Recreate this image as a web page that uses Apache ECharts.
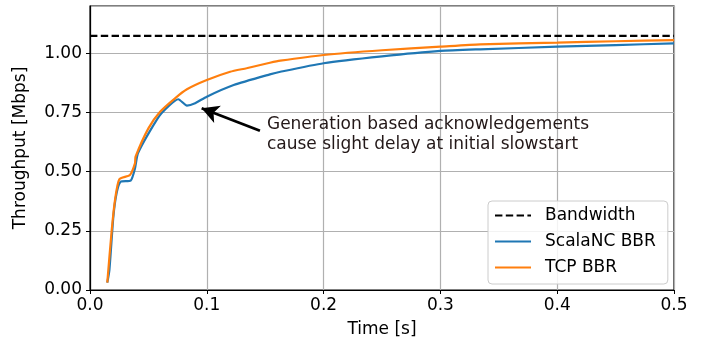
<!DOCTYPE html>
<html>
<head>
<meta charset="utf-8">
<script src="https://cdn.jsdelivr.net/npm/echarts@6/dist/echarts.min.js"></script>
<style>
html,body{margin:0;padding:0;background:#fff;}
#chart{width:704px;height:347px;}
</style>
</head>
<body>
<div id="chart"></div>
<script>
// ---- data ----
const bandwidth = 1.074;
const tcpTime = [0.0148,0.0186,0.0214,0.0251,0.0342,0.0385,0.039,0.050,0.060,0.0728,0.083,0.100,0.120,0.134,0.154,0.163,0.200,0.250,0.300,0.334,0.400,0.450,0.500];
const tcpThr  = [0.031,0.253,0.380,0.468,0.486,0.535,0.563,0.683,0.753,0.810,0.848,0.887,0.922,0.937,0.960,0.969,0.993,1.013,1.028,1.038,1.045,1.051,1.056];
const ncTime  = [0.0148,0.0166,0.0200,0.0228,0.0263,0.0348,0.0385,0.041,0.051,0.061,0.0756,0.083,0.090,0.100,0.123,0.154,0.163,0.200,0.250,0.300,0.334,0.400,0.450,0.500];
const ncThr   = [0.031,0.084,0.310,0.410,0.458,0.462,0.514,0.577,0.669,0.746,0.806,0.779,0.789,0.817,0.866,0.911,0.922,0.958,0.987,1.010,1.017,1.028,1.035,1.042];
const xTicks = [0.0,0.1,0.2,0.3,0.4,0.5];
const yTicks = [0.00,0.25,0.50,0.75,1.00];
const annotationText = ['Generation based acknowledgements','cause slight delay at initial slowstart'];
const arrowTip = [0.0956, 0.768];
const arrowTail = [0.1455, 0.673];
const textAnchor = [0.1515, 0.69];

const FONT = 'DejaVu Sans';
const FS = 17;
const zip = (a,b)=>a.map((v,i)=>[v,b[i]]);

const chart = echarts.init(document.getElementById('chart'), null, {renderer:'canvas'});
const option = {
  animation:false,
  backgroundColor:'#fff',
  textStyle:{fontFamily:FONT},
  grid:{left:90,right:30,top:6,bottom:57,show:true,borderColor:'#000',borderWidth:1.2,backgroundColor:'transparent'},
  xAxis:{
    type:'value',min:xTicks[0],max:xTicks[xTicks.length-1],interval:0.1,
    name:'Time [s]',nameLocation:'middle',nameGap:31,
    nameTextStyle:{color:'#000',fontSize:FS,fontFamily:FONT},
    axisLine:{show:true,onZero:false,lineStyle:{color:'#000',width:1.2}},
    axisTick:{show:true,length:4,lineStyle:{color:'#000',width:1}},
    axisLabel:{color:'#000',fontSize:FS,fontFamily:FONT,margin:7,formatter:v=>v.toFixed(1)},
    splitLine:{show:true,lineStyle:{color:'#b0b0b0',width:1.2}}
  },
  yAxis:{
    type:'value',min:0,max:1.2,interval:0.25,
    name:'Throughput [Mbps]',nameLocation:'middle',nameGap:61,nameRotate:90,
    nameTextStyle:{color:'#000',fontSize:FS,fontFamily:FONT},
    axisLine:{show:true,onZero:false,lineStyle:{color:'#000',width:1.2}},
    axisTick:{show:true,length:4,lineStyle:{color:'#000',width:1}},
    axisLabel:{color:'#000',fontSize:FS,fontFamily:FONT,margin:8,showMaxLabel:false,
      formatter:v=> (v>1.1? '' : v.toFixed(2))},
    splitLine:{show:true,lineStyle:{color:'#b0b0b0',width:1.2}}
  },
  legend:{
    orient:'vertical',left:488,top:201,
    itemWidth:36,itemHeight:14,itemGap:9,
    padding:[6,12,8,6],
    backgroundColor:'rgba(255,255,255,0.85)',borderColor:'#cccccc',borderWidth:1,borderRadius:4,
    itemStyle:{opacity:0,borderWidth:0},
    textStyle:{color:'#000',fontSize:FS,fontFamily:FONT,padding:[0,0,0,9]},
    data:['Bandwidth','ScalaNC BBR','TCP BBR']
  },
  series:[
    {name:'Bandwidth',type:'line',symbol:'none',data:[[0,bandwidth],[0.5,bandwidth]],
     lineStyle:{color:'#000',width:2.2,type:[7.4,3.4]},itemStyle:{color:'#000'},z:3},
    {name:'ScalaNC BBR',type:'line',symbol:'none',data:zip(ncTime,ncThr),smooth:0.2,
     lineStyle:{color:'#1f77b4',width:2.2},itemStyle:{color:'#1f77b4'},z:4},
    {name:'TCP BBR',type:'line',symbol:'none',data:zip(tcpTime,tcpThr),smooth:0.2,
     lineStyle:{color:'#ff7f0e',width:2.2},itemStyle:{color:'#ff7f0e'},z:5,
     markLine:{silent:true,symbol:['none','arrow'],symbolSize:[14,17],
       lineStyle:{color:'#000',width:2.8,type:'solid'},label:{show:false},
       data:[[{coord:arrowTail},{coord:arrowTip}]]}}
  ]
};
chart.setOption(option);
const p = chart.convertToPixel({gridIndex:0}, textAnchor);
chart.setOption({graphic:[{type:'text',left:p[0],top:p[1]-12,z:10,
  style:{text:annotationText.join('\n'),fill:'#231818',font:FS+'px "DejaVu Sans"',lineHeight:20}}]});
</script>
</body>
</html>
